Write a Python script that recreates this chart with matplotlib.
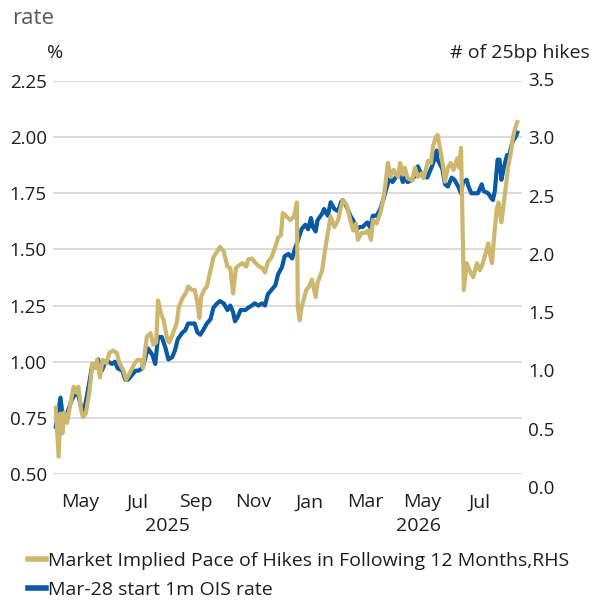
import matplotlib
matplotlib.use("Agg")
import matplotlib.pyplot as plt
import matplotlib.transforms as mtransforms
from matplotlib.lines import Line2D
import pandas as pd

plt.rcParams["font.family"] = ["Open Sans", "DejaVu Sans"]

GOLD = "#CDB76E"
BLUE = "#0A5AA3"
TEXT = "#1E1E1E"
GRID = "#D4D4D4"

# Mar-28 start 1m OIS rate (LHS, %)
ois_dates = [
    "2025-04-05", "2025-04-10", "2025-04-13", "2025-04-17", "2025-04-22", "2025-04-26",
    "2025-04-29", "2025-05-03", "2025-05-06", "2025-05-10", "2025-05-14", "2025-05-17",
    "2025-05-20", "2025-05-24", "2025-05-28", "2025-05-31", "2025-06-04", "2025-06-07",
    "2025-06-10", "2025-06-15", "2025-06-18", "2025-06-21", "2025-06-25", "2025-06-29",
    "2025-07-02", "2025-07-06", "2025-07-09", "2025-07-12", "2025-07-17", "2025-07-20",
    "2025-07-23", "2025-07-27", "2025-07-31", "2025-08-03", "2025-08-07", "2025-08-10",
    "2025-08-13", "2025-08-18", "2025-08-21", "2025-08-24", "2025-08-28", "2025-08-31",
    "2025-09-03", "2025-09-06", "2025-09-09", "2025-09-13", "2025-09-17", "2025-09-20",
    "2025-09-24", "2025-09-27", "2025-10-01", "2025-10-05", "2025-10-08", "2025-10-11",
    "2025-10-13", "2025-10-16", "2025-10-19", "2025-10-24", "2025-10-27", "2025-10-31",
    "2025-11-03", "2025-11-07", "2025-11-11", "2025-11-14", "2025-11-17", "2025-11-21",
    "2025-11-25", "2025-11-28", "2025-12-02", "2025-12-05", "2025-12-09", "2025-12-13",
    "2025-12-15", "2025-12-19", "2025-12-23", "2025-12-27", "2025-12-30", "2026-01-02",
    "2026-01-04", "2026-01-07", "2026-01-09", "2026-01-14", "2026-01-16", "2026-01-20",
    "2026-01-23", "2026-01-27", "2026-01-31", "2026-02-03", "2026-02-05", "2026-02-09",
    "2026-02-13", "2026-02-16", "2026-02-20", "2026-02-23", "2026-02-26", "2026-03-03",
    "2026-03-06", "2026-03-09", "2026-03-13", "2026-03-17", "2026-03-20", "2026-03-24",
    "2026-03-27", "2026-03-30", "2026-04-04", "2026-04-07", "2026-04-10", "2026-04-12",
    "2026-04-15", "2026-04-20", "2026-04-23", "2026-04-26", "2026-04-28", "2026-05-01",
    "2026-05-06", "2026-05-09", "2026-05-12", "2026-05-16", "2026-05-17", "2026-05-22",
    "2026-05-25", "2026-05-28", "2026-06-01", "2026-06-04", "2026-06-08", "2026-06-11",
    "2026-06-13", "2026-06-17", "2026-06-19", "2026-06-22", "2026-06-26", "2026-06-29",
    "2026-07-03", "2026-07-05", "2026-07-10", "2026-07-13", "2026-07-15", "2026-07-17",
    "2026-07-20", "2026-07-22", "2026-07-24", "2026-07-27", "2026-07-30", "2026-07-31",
    "2026-08-03", "2026-08-05", "2026-08-08", "2026-08-10",
]
ois_rate = [
    0.71, 0.84, 0.73, 0.77, 0.83, 0.86,
    0.85, 0.78, 0.80, 0.89, 0.99, 0.98,
    1.01, 0.96, 1.00, 1.00, 0.99, 1.00,
    0.97, 0.96, 0.92, 0.92, 0.94, 0.96,
    0.96, 0.97, 1.01, 1.06, 1.03, 0.99,
    1.11, 1.11, 1.06, 1.01, 1.02, 1.05,
    1.10, 1.13, 1.14, 1.17, 1.17, 1.17,
    1.13, 1.12, 1.14, 1.17, 1.19, 1.24,
    1.26, 1.27, 1.26, 1.23, 1.25, 1.22,
    1.18, 1.20, 1.23, 1.23, 1.24, 1.25,
    1.26, 1.25, 1.26, 1.25, 1.30, 1.32,
    1.34, 1.39, 1.42, 1.47, 1.48, 1.46,
    1.49, 1.54, 1.59, 1.61, 1.59, 1.64,
    1.60, 1.58, 1.63, 1.66, 1.68, 1.65,
    1.71, 1.68, 1.67, 1.71, 1.72, 1.69,
    1.65, 1.63, 1.59, 1.60, 1.60, 1.62,
    1.60, 1.65, 1.65, 1.68, 1.72, 1.78,
    1.82, 1.80, 1.83, 1.84, 1.80, 1.83,
    1.80, 1.81, 1.83, 1.87, 1.85, 1.83,
    1.82, 1.85, 1.88, 1.94, 1.90, 1.86,
    1.79, 1.78, 1.82, 1.81, 1.78, 1.75,
    1.80, 1.81, 1.78, 1.75, 1.75, 1.75,
    1.79, 1.76, 1.75, 1.73, 1.72, 1.76,
    1.90, 1.90, 1.81, 1.87, 1.92, 1.89,
    1.95, 1.98, 2.00, 2.02,
]

# Market implied pace of hikes in following 12 months (RHS, # of 25bp hikes)
hike_dates = [
    "2025-04-05", "2025-04-08", "2025-04-10", "2025-04-12", "2025-04-14", "2025-04-17",
    "2025-04-20", "2025-04-24", "2025-04-27", "2025-04-29", "2025-05-02", "2025-05-04",
    "2025-05-07", "2025-05-11", "2025-05-14", "2025-05-17", "2025-05-19", "2025-05-22",
    "2025-05-25", "2025-05-29", "2025-06-01", "2025-06-05", "2025-06-09", "2025-06-12",
    "2025-06-16", "2025-06-19", "2025-06-23", "2025-06-28", "2025-07-01", "2025-07-05",
    "2025-07-07", "2025-07-11", "2025-07-15", "2025-07-18", "2025-07-21", "2025-07-23",
    "2025-07-26", "2025-07-29", "2025-08-02", "2025-08-04", "2025-08-08", "2025-08-12",
    "2025-08-14", "2025-08-18", "2025-08-22", "2025-08-24", "2025-08-28", "2025-08-31",
    "2025-09-03", "2025-09-05", "2025-09-07", "2025-09-10", "2025-09-13", "2025-09-17",
    "2025-09-20", "2025-09-24", "2025-09-27", "2025-10-01", "2025-10-05", "2025-10-08",
    "2025-10-11", "2025-10-14", "2025-10-17", "2025-10-21", "2025-10-25", "2025-10-27",
    "2025-10-31", "2025-11-04", "2025-11-08", "2025-11-11", "2025-11-14", "2025-11-17",
    "2025-11-21", "2025-11-25", "2025-11-28", "2025-12-01", "2025-12-03", "2025-12-07",
    "2025-12-11", "2025-12-15", "2025-12-18", "2025-12-19", "2025-12-21", "2025-12-23",
    "2025-12-28", "2025-12-31", "2026-01-03", "2026-01-07", "2026-01-09", "2026-01-14",
    "2026-01-17", "2026-01-20", "2026-01-23", "2026-01-27", "2026-01-31", "2026-02-03",
    "2026-02-05", "2026-02-09", "2026-02-13", "2026-02-16", "2026-02-19", "2026-02-21",
    "2026-02-25", "2026-03-01", "2026-03-04", "2026-03-07", "2026-03-09", "2026-03-13",
    "2026-03-17", "2026-03-20", "2026-03-22", "2026-03-25", "2026-03-28", "2026-03-31",
    "2026-04-05", "2026-04-07", "2026-04-10", "2026-04-12", "2026-04-15", "2026-04-20",
    "2026-04-23", "2026-04-26", "2026-04-30", "2026-05-02", "2026-05-07", "2026-05-10",
    "2026-05-12", "2026-05-15", "2026-05-17", "2026-05-20", "2026-05-23", "2026-05-25",
    "2026-05-28", "2026-05-31", "2026-06-03", "2026-06-07", "2026-06-09", "2026-06-11",
    "2026-06-14", "2026-06-17", "2026-06-20", "2026-06-24", "2026-06-28", "2026-07-01",
    "2026-07-03", "2026-07-06", "2026-07-10", "2026-07-12", "2026-07-14", "2026-07-16",
    "2026-07-19", "2026-07-21", "2026-07-24", "2026-07-27", "2026-07-30", "2026-07-31",
    "2026-08-03", "2026-08-05", "2026-08-07", "2026-08-10",
]
hike_pace = [
    0.68, 0.26, 0.63, 0.46, 0.64, 0.55,
    0.69, 0.86, 0.81, 0.86, 0.66, 0.60,
    0.63, 0.83, 1.06, 1.02, 1.09, 0.94,
    1.09, 1.06, 1.15, 1.17, 1.15, 1.06,
    1.00, 0.92, 0.98, 1.06, 1.09, 1.09,
    1.02, 1.29, 1.32, 1.22, 1.24, 1.60,
    1.49, 1.43, 1.26, 1.24, 1.32, 1.41,
    1.54, 1.62, 1.67, 1.72, 1.69, 1.69,
    1.58, 1.45, 1.63, 1.69, 1.72, 1.86,
    1.97, 2.02, 2.06, 2.02, 1.89, 1.88,
    1.66, 1.88, 1.90, 1.92, 1.89, 1.95,
    1.96, 1.92, 1.89, 1.88, 1.84, 1.93,
    1.97, 2.06, 2.14, 2.16, 2.35, 2.32,
    2.29, 2.32, 2.44, 1.54, 1.43, 1.54,
    1.69, 1.72, 1.78, 1.63, 1.75, 1.86,
    2.03, 2.18, 2.32, 2.23, 2.29, 2.40,
    2.46, 2.42, 2.29, 2.20, 2.26, 2.12,
    2.18, 2.18, 2.20, 2.12, 2.29, 2.26,
    2.35, 2.46, 2.57, 2.78, 2.66, 2.72,
    2.66, 2.78, 2.68, 2.74, 2.65, 2.63,
    2.74, 2.66, 2.69, 2.65, 2.80, 2.78,
    2.92, 3.00, 3.02, 2.89, 2.74, 2.62,
    2.74, 2.78, 2.72, 2.82, 2.74, 2.91,
    1.69, 1.92, 1.86, 1.80, 1.92, 1.86,
    1.89, 1.97, 2.09, 1.99, 1.92, 2.12,
    2.38, 2.44, 2.27, 2.46, 2.66, 2.74,
    2.86, 2.98, 3.06, 3.13,
]

lhs_ticks = [0.50, 0.75, 1.00, 1.25, 1.50, 1.75, 2.00, 2.25]
rhs_ticks = [0.0, 0.5, 1.0, 1.5, 2.0, 2.5, 3.0, 3.5]
month_ticks = ["2025-05-01", "2025-07-01", "2025-09-01", "2025-11-01",
               "2026-01-01", "2026-03-01", "2026-05-01", "2026-07-01"]
month_labels = ["May", "Jul", "Sep", "Nov", "Jan", "Mar", "May", "Jul"]
years = ["2025", "2026"]
year_pos = ["2025-08-02", "2026-04-27"]

ois_x = pd.to_datetime(ois_dates)
hike_x = pd.to_datetime(hike_dates)

W, H = 592, 600
fig = plt.figure(figsize=(W / 100, H / 100), dpi=100)

# left (%) axis and the slightly taller right-hand axis, as in the original
ax = fig.add_axes([53 / W, 1 - 474 / H, 469 / W, 393 / H])
ax2 = fig.add_axes([53 / W, 1 - 487 / H, 469 / W, 408 / H], sharex=ax)
ax2.patch.set_visible(False)

ax.plot(ois_x, ois_rate, color=BLUE, lw=3.0, solid_joinstyle="round")
ax2.plot(hike_x, hike_pace, color=GOLD, lw=3.0, solid_joinstyle="round")

ax.set_ylim(0.5, 2.25)
ax.set_yticks(lhs_ticks)
ax.set_yticklabels([f"{v:.2f}" for v in lhs_ticks])
ax.grid(axis="y", color=GRID, lw=1.2)
ax.set_axisbelow(True)

ax2.set_ylim(0, 3.5)
ax2.set_yticks(rhs_ticks)
ax2.set_yticklabels([f"{v:.1f}" for v in rhs_ticks])
ax2.yaxis.tick_right()

ax.set_xlim(pd.Timestamp("2025-04-02"), pd.Timestamp("2026-08-15"))
ax.set_xticks(pd.to_datetime(month_ticks))
ax.set_xticklabels(month_labels)
ax2.tick_params(axis="x", bottom=False, labelbottom=False)

for a in (ax, ax2):
    for s in a.spines.values():
        s.set_visible(False)
ax.tick_params(axis="y", length=0, pad=4.5, labelsize=13.5, labelcolor=TEXT)
ax.tick_params(axis="x", length=0, pad=14, labelsize=14, labelcolor=TEXT)
ax2.tick_params(axis="y", length=0, pad=4.5, labelsize=13.5, labelcolor=TEXT)

trans = mtransforms.blended_transform_factory(ax.transData, fig.transFigure)
for yr, pos in zip(years, year_pos):
    ax.text(pd.Timestamp(pos), 1 - 526 / H, yr, transform=trans,
            ha="center", va="center", fontsize=14, color=TEXT)

fig.text(12 / W, 1 - 18 / H, "rate", ha="left", va="center", fontsize=16, color="#595959")
fig.text(55 / W, 1 - 53 / H, "%", ha="center", va="center", fontsize=14, color=TEXT)
fig.text(590 / W, 1 - 53 / H, "# of 25bp hikes", ha="right", va="center", fontsize=14, color=TEXT)

handles = [Line2D([], [], color=GOLD, lw=4), Line2D([], [], color=BLUE, lw=4)]
labels = ["Market Implied Pace of Hikes in Following 12 Months,RHS",
          "Mar-28 start 1m OIS rate"]
fig.legend(handles, labels, loc="upper left", bbox_to_anchor=(28 / W, 1 - 552 / H),
           frameon=False, fontsize=14, handlelength=0.9, handletextpad=0.15,
           labelspacing=0.55, borderpad=0, borderaxespad=0, labelcolor=TEXT)

fig.savefig("out.png", dpi=100)
